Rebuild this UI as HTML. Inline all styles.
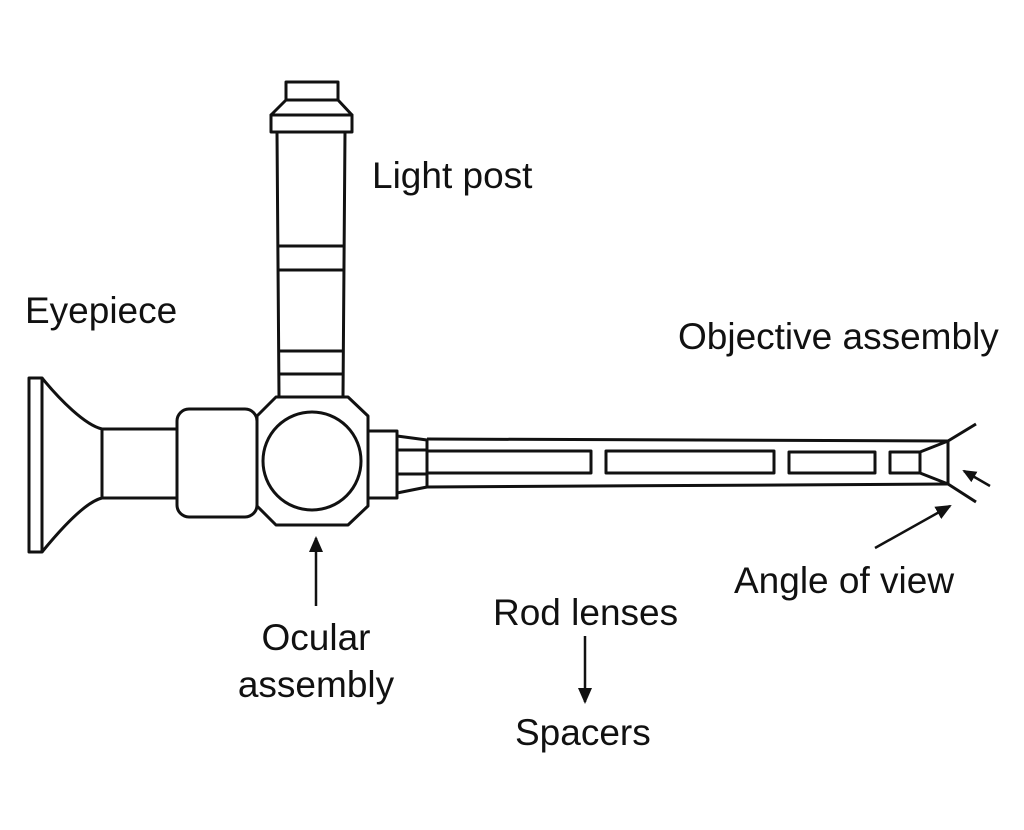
<!DOCTYPE html>
<html><head><style>
html,body{margin:0;padding:0;background:#fff}
svg{display:block}
text{font-family:"Liberation Sans",sans-serif;font-size:37px;fill:#111}
</style></head><body>
<svg width="1024" height="830" viewBox="0 0 1024 830" xmlns="http://www.w3.org/2000/svg">
<defs><marker id="a" markerWidth="14" markerHeight="12" refX="12" refY="6" orient="auto" markerUnits="userSpaceOnUse"><path d="M0,0 L14,6 L0,12 z" fill="#111"/></marker>
<marker id="b" markerWidth="16" markerHeight="14" refX="14" refY="7" orient="auto" markerUnits="userSpaceOnUse"><path d="M0,0 L16,7 L0,14 z" fill="#111"/></marker></defs>
<g fill="none" stroke="#111" stroke-width="3" stroke-linejoin="round">
<rect x="286" y="82" width="52" height="18"/>
<path d="M286,100 L271,115 L352,115 L338,100"/>
<rect x="271" y="115" width="81" height="17"/>
<path d="M277,132 L279,396 M345,132 L343,396"/>
<path d="M278,246 H344 M278,270 H344 M278,351 H344 M278,374 H344"/>
<path d="M276,397 L348,397 L368,416 L368,506 L348,525 L276,525 L257,506 L257,416 Z"/>
<circle cx="312" cy="461" r="49"/>
<rect x="177" y="409" width="80" height="108" rx="12"/>
<rect x="102" y="429" width="75" height="69"/>
<path d="M102,429 C85,425 60,400 42,378 M102,498 C85,502 60,530 42,552"/>
<rect x="29" y="378" width="13" height="174"/>
<rect x="368" y="431" width="29" height="67"/>
<path d="M397,436 L427,440 L427,487 L397,493"/>
<path d="M397,450 H427 M397,474 H427"/>
<path d="M427,439 L948,441 M427,487 L948,484"/>
<rect x="427" y="451" width="164" height="22"/>
<rect x="606" y="451" width="168" height="22"/>
<rect x="789" y="452" width="86" height="21"/>
<rect x="890" y="452" width="30" height="21"/>
<path d="M920,452 L948,441 L948,484 L920,473"/>
<path d="M948,441 L976,424 M948,484 L976,502"/>
</g>
<g stroke="#111" stroke-width="2.5" fill="none">
<line x1="990" y1="486" x2="964" y2="471" marker-end="url(#a)"/>
<line x1="875" y1="548" x2="950" y2="506" marker-end="url(#b)"/>
<line x1="316" y1="606" x2="316" y2="538" marker-end="url(#b)"/>
<line x1="585" y1="636" x2="585" y2="702" marker-end="url(#b)"/>
</g>
<text x="372" y="188">Light post</text>
<text x="25" y="323">Eyepiece</text>
<text x="678" y="349">Objective assembly</text>
<text x="734" y="593">Angle of view</text>
<text x="493" y="625">Rod lenses</text>
<text x="515" y="745">Spacers</text>
<text x="316" y="650" text-anchor="middle">Ocular</text>
<text x="316" y="697" text-anchor="middle">assembly</text>
</svg>
</body></html>
